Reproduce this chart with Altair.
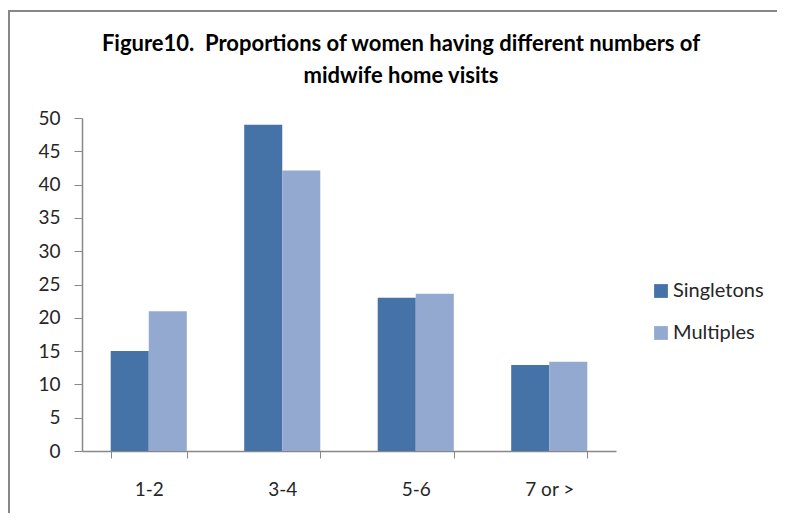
import altair as alt
import pandas as pd

categories = ["1-2", "3-4", "5-6", "7 or >"]
series = ["Singletons", "Multiples"]
singletons = [15, 49, 23, 12.9]
multiples = [21, 42.1, 23.6, 13.4]
colors = ["#4572A7", "#94A9D0"]
y_ticks = list(range(0, 51, 5))

rows = []
for c, s, m in zip(categories, singletons, multiples):
    rows.append({"Visits": c, "Group": "Singletons", "Percent": s})
    rows.append({"Visits": c, "Group": "Multiples", "Percent": m})
df = pd.DataFrame(rows)

FONT = "Lato"
W, H = 534, 333

bars = alt.Chart(df).mark_bar().encode(
    x=alt.X("Visits:N", sort=categories, title=None,
            scale=alt.Scale(paddingInner=0.43, paddingOuter=0.215),
            axis=alt.Axis(labelAngle=0, tickBand="extent", tickSize=7,
                          labelPadding=22, labelFontSize=19, labelFont=FONT,
                          labelColor="#262626", tickColor="#878787",
                          domainColor="#878787", domainWidth=1.5)),
    xOffset=alt.XOffset("Group:N", sort=series, scale=alt.Scale(paddingInner=0, paddingOuter=0)),
    y=alt.Y("Percent:Q", title=None,
            scale=alt.Scale(domain=[0, 50], nice=False),
            axis=alt.Axis(values=y_ticks, grid=False, tickSize=8, labelPadding=14,
                          labelFontSize=19, labelFont=FONT, labelColor="#262626",
                          tickColor="#878787", domainColor="#878787", domainWidth=1.5)),
    color=alt.Color("Group:N", sort=series,
                    scale=alt.Scale(domain=series, range=colors),
                    legend=alt.Legend(title=None, orient="none", legendX=569, legendY=163,
                                      symbolType="square", symbolSize=190, symbolStrokeWidth=0,
                                      labelFont=FONT, labelFontSize=20, labelColor="#262626",
                                      rowPadding=22, labelOffset=2, padding=0)),
)

frame_df = pd.DataFrame({"f": [0]})
frame_left = alt.Chart(frame_df).mark_rect(fill="#878787", strokeWidth=0).encode(
    x=alt.value(-74), x2=alt.value(-72), y=alt.value(-108), y2=alt.value(H + 62)
)
frame_top = alt.Chart(frame_df).mark_rule(stroke="#878787", strokeWidth=2).encode(
    x=alt.value(-74), x2=alt.value(W + 161), y=alt.value(-107)
)

chart = alt.layer(frame_left, frame_top, bars).properties(
    width=W, height=H,
    autosize=alt.AutoSizeParams(type="none"),
    padding={"left": 74, "top": 110, "right": 161, "bottom": 63},
    title=alt.TitleParams(
        text=["Figure10.\u00a0 Proportions of women having different numbers of", "midwife home visits"],
        font=FONT, fontSize=22, fontWeight="bold", color="#000000",
        anchor="middle", dx=52, lineHeight=32, offset=-78,
    ),
).configure_view(stroke=None)

chart.save("out.html", embed_options={"renderer": "svg", "actions": False})
